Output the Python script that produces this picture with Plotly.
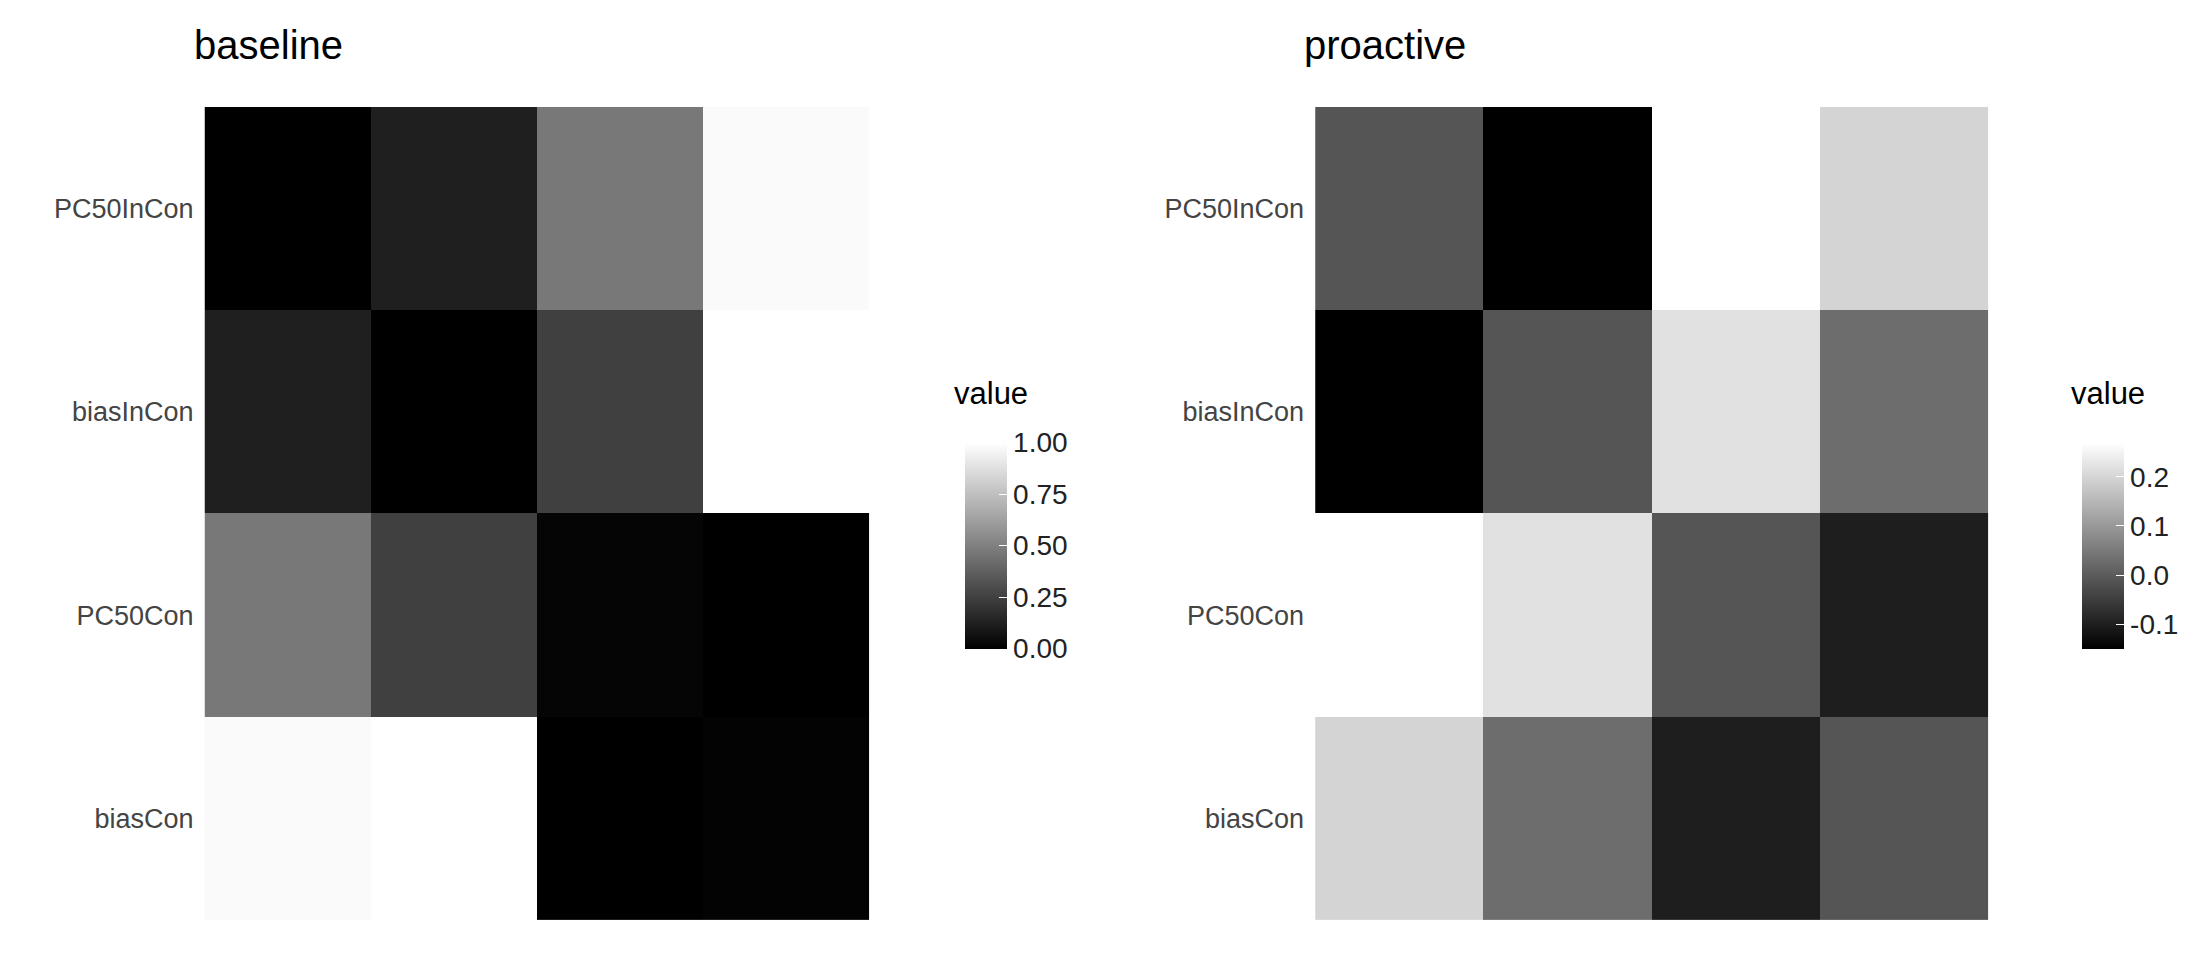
import plotly.graph_objects as go

rows = ["PC50InCon", "biasInCon", "PC50Con", "biasCon"]
cols = ["c1", "c2", "c3", "c4"]

baseline = [
    [0.00, 0.12, 0.47, 0.98],
    [0.12, 0.00, 0.25, 1.00],
    [0.47, 0.25, 0.02, 0.00],
    [0.98, 1.00, 0.00, 0.01],
]
proactive = [
    [-0.01, -0.15, 0.27, 0.20],
    [-0.15, -0.01, 0.22, 0.03],
    [0.27, 0.22, -0.01, -0.10],
    [0.20, 0.03, -0.10, -0.01],
]

gray = [[0, "black"], [1, "white"]]
font = "Liberation Sans, Arial"

def cbar(x, vals, text):
    return dict(x=x, xanchor="left", y=0.44, yanchor="middle", len=0.235, thickness=42,
                outlinewidth=0, ticks="inside", ticklen=8, tickcolor="white",
                tickvals=vals, ticktext=text, tickfont=dict(size=28, color="#222"))

fig = go.Figure()
fig.add_trace(go.Heatmap(z=baseline, x=cols, y=rows, colorscale=gray, zmin=0, zmax=1,
                         xaxis="x", yaxis="y",
                         colorbar=cbar(0.429, [0, 0.25, 0.5, 0.75, 1], ["0.00", "0.25", "0.50", "0.75", "1.00"])))
fig.add_trace(go.Heatmap(z=proactive, x=cols, y=rows, colorscale=gray, zmin=-0.15, zmax=0.27,
                         xaxis="x2", yaxis="y2",
                         colorbar=cbar(0.935, [-0.1, 0, 0.1, 0.2], ["-0.1", "0.0", "0.1", "0.2"])))

yax = dict(autorange="reversed", showgrid=False, zeroline=False, ticks="",
           tickfont=dict(size=27, color="#444"), ticklabelstandoff=10, domain=[0.05, 0.897])
xax = dict(showticklabels=False, showgrid=False, zeroline=False, ticks="")

def ann(text, x, y, size):
    return dict(text=text, x=x, y=y, xref="paper", yref="paper", xanchor="left",
                yanchor="middle", showarrow=False, font=dict(size=size, color="black"))

fig.update_layout(
    width=2208, height=960, paper_bgcolor="white", plot_bgcolor="white",
    font=dict(family=font),
    margin=dict(l=0, r=0, t=0, b=0),
    xaxis=dict(xax, domain=[0.089, 0.390]),
    xaxis2=dict(xax, domain=[0.592, 0.897]),
    yaxis=dict(yax, anchor="x"),
    yaxis2=dict(yax, anchor="x2"),
    annotations=[
        ann("baseline", 184 / 2208, 1 - 37 / 960, 40),
        ann("proactive", 1294 / 2208, 1 - 37 / 960, 40),
        ann("value", 944 / 2208, 1 - 385 / 960, 31),
        ann("value", 2061 / 2208, 1 - 385 / 960, 31),
    ],
)
fig.write_html("out.html")
